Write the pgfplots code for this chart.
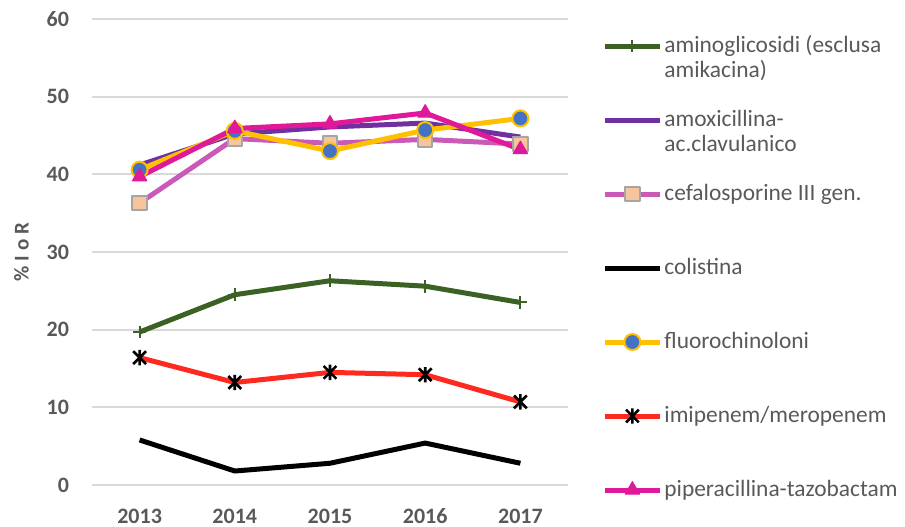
\documentclass[border=0pt]{standalone}
\usepackage{pgfplots}
\pgfplotsset{compat=1.18}
\usepackage{fontspec}
\setmainfont{Carlito}

\definecolor{txt}{HTML}{595959}
\definecolor{gridc}{HTML}{D9D9D9}
\definecolor{cgreen}{HTML}{3B6125}
\definecolor{cpurple}{HTML}{7030A0}
\definecolor{corchid}{HTML}{C95AB8}
\definecolor{cpeach}{HTML}{F8C49C}
\definecolor{cgreyb}{HTML}{A5A5A5}
\definecolor{cyellow}{HTML}{FFC000}
\definecolor{cblue}{HTML}{4472C4}
\definecolor{cred}{HTML}{FF2A1F}
\definecolor{cmagenta}{HTML}{E0189A}

% X with a vertical stroke
\pgfdeclareplotmark{xstar}{%
  \pgfpathmoveto{\pgfqpoint{-\pgfplotmarksize}{-\pgfplotmarksize}}%
  \pgfpathlineto{\pgfqpoint{\pgfplotmarksize}{\pgfplotmarksize}}%
  \pgfpathmoveto{\pgfqpoint{-\pgfplotmarksize}{\pgfplotmarksize}}%
  \pgfpathlineto{\pgfqpoint{\pgfplotmarksize}{-\pgfplotmarksize}}%
  \pgfpathmoveto{\pgfqpoint{0pt}{-1.2\pgfplotmarksize}}%
  \pgfpathlineto{\pgfqpoint{0pt}{1.2\pgfplotmarksize}}%
  \pgfusepathqstroke}

% legend text: baseline of the first line is the row baseline
\newcommand{\legtext}[1]{\parbox[t]{140pt}{\raggedright #1}}

\begin{document}
\begin{tikzpicture}
\useasboundingbox (-46pt,-20.5pt) rectangle (406.5pt,242.5pt);
\begin{axis}[
  at={(0,0)}, anchor=south west,
  scale only axis, width=238pt, height=233pt,
  xmin=-0.5, xmax=4.5, ymin=0, ymax=60,
  xtick={0,1,2,3,4},
  xticklabels={2013,2014,2015,2016,2017},
  ytick={0,10,20,30,40,50,60},
  axis line style={draw=none},
  major tick length=0pt,
  ymajorgrids, grid style={gridc, line width=1pt},
  tick label style={font=\fontsize{11}{13}\selectfont\bfseries, text=txt},
  xticklabel style={yshift=-8pt, text height=7.6pt, text depth=0pt},
  yticklabel style={xshift=-8pt},
  /pgf/number format/assume math mode=true,
  ylabel={\% I o R},
  ylabel style={font=\fontsize{10.5}{12}\selectfont\bfseries, text=txt, yshift=2pt},
  legend style={
    at={(1,1)}, anchor=north west, xshift=17pt, yshift=-7.5pt,
    draw=none, fill=none,
    font=\fontsize{11.7}{12.5}\selectfont, text=txt,
    row sep=0pt, column sep=1pt, inner sep=0pt,
  },
  legend cell align=left,
  legend style={
    cells={anchor=base west},
    nodes={inner sep=0pt, outer sep=0pt, text height=9pt, text depth=28pt},
  },
  legend image code/.code={%
    \draw[mark repeat=2, mark phase=2, line width=2.5pt]
      plot coordinates {(0pt,3.2pt) (13.75pt,3.2pt) (27.5pt,3.2pt)};},
  every axis plot/.append style={line width=2.5pt, line join=round},
]
\addplot[cgreen, mark=+, mark size=3.2pt, mark options={line width=1pt}]
  coordinates {(0,19.7) (1,24.5) (2,26.3) (3,25.6) (4,23.5)};
\addlegendentry{\legtext{aminoglicosidi (esclusa\\amikacina)}}
\addplot[cpurple, mark=none]
  coordinates {(0,41.2) (1,45.2) (2,46.1) (3,46.6) (4,44.8)};
\addlegendentry{\legtext{amoxicillina-\\ac.clavulanico}}
\addplot[corchid, mark=square*, mark size=3.6pt,
  mark options={fill=cpeach, draw=cgreyb, line width=1pt}]
  coordinates {(0,36.3) (1,44.6) (2,44.0) (3,44.5) (4,43.9)};
\addlegendentry{\legtext{cefalosporine III gen.}}
\addplot[black, mark=none]
  coordinates {(0,5.8) (1,1.8) (2,2.8) (3,5.4) (4,2.8)};
\addlegendentry{\legtext{colistina}}
\addplot[cyellow, mark=*, mark size=4pt,
  mark options={fill=cblue, draw=cyellow, line width=1pt}]
  coordinates {(0,40.6) (1,45.6) (2,43.0) (3,45.7) (4,47.2)};
\addlegendentry{\legtext{fluorochinoloni}}
\addplot[cred, mark=xstar, mark size=3.2pt,
  mark options={draw=black, line width=1.3pt}]
  coordinates {(0,16.4) (1,13.2) (2,14.5) (3,14.2) (4,10.7)};
\addlegendentry{\legtext{imipenem/meropenem}}
\addplot[cmagenta, mark=triangle*, mark size=4.2pt,
  mark options={fill=cmagenta, draw=cmagenta, line width=0.5pt}]
  coordinates {(0,39.7) (1,45.9) (2,46.5) (3,47.9) (4,43.2)};
\addlegendentry{\legtext{piperacillina-tazobactam}}
\end{axis}
\end{tikzpicture}
\end{document}
